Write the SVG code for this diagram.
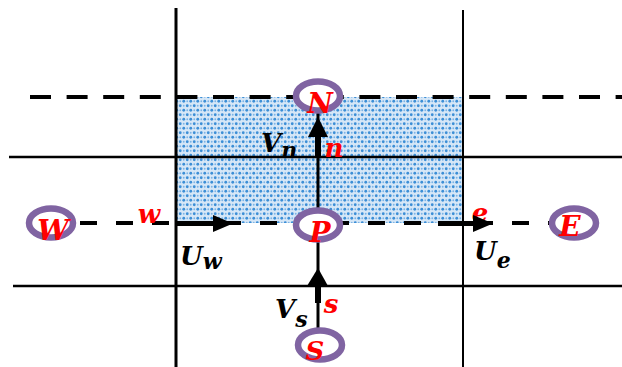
<svg xmlns="http://www.w3.org/2000/svg" width="622" height="367" viewBox="0 0 622 367">
<style>
.grid{stroke:#000;fill:none}
.dash{stroke:#000;stroke-width:4;fill:none}
.node ellipse{fill:#fff;stroke:#8064A2;stroke-width:6.5}
.big{font-family:"DejaVu Serif",serif;font-weight:bold;font-style:italic;font-size:28px;fill:#ff0000;text-anchor:middle}
.face{font-family:"DejaVu Serif",serif;font-weight:bold;font-style:italic;font-size:26px;fill:#ff0000;text-anchor:middle}
.vel{font-family:"DejaVu Serif",serif;font-weight:bold;font-style:italic;font-size:26px;fill:#000}
.sub{font-size:22px}
.arr{fill:#000}
</style>
<defs>
<pattern id="dots" width="7" height="9" patternUnits="userSpaceOnUse">
<rect width="7" height="9" fill="#d6e7f7"/>
<circle cx="1.75" cy="2.25" r="1.4" fill="#3b8ed6"/>
<circle cx="5.25" cy="6.75" r="1.4" fill="#3b8ed6"/>
<circle cx="1.75" cy="6.75" r="0.9" fill="#7db4e6"/>
<circle cx="5.25" cy="2.25" r="0.9" fill="#7db4e6"/>
</pattern>
</defs>
<rect x="177" y="97" width="286" height="126" fill="url(#dots)"/>
<g id="grid">
<line class="grid" x1="176" y1="8" x2="176" y2="367" stroke-width="3"/>
<line class="grid" x1="463" y1="10" x2="463" y2="367" stroke-width="2"/>
<line class="grid" x1="9" y1="157" x2="622" y2="157" stroke-width="2.5"/>
<line class="grid" x1="13" y1="286" x2="622" y2="286" stroke-width="2.5"/>
<line class="dash" x1="30" y1="97" x2="622" y2="97" stroke-dasharray="21 15.6"/>
<line class="dash" x1="80" y1="223" x2="549" y2="223" stroke-dasharray="17 19"/>
</g>
<text id="label-e" class="face" x="480" y="222">e</text>
<g id="connectors">
<line x1="318" y1="112" x2="318" y2="210" stroke="#000" stroke-width="3"/>
<line x1="318" y1="240" x2="318" y2="330" stroke="#000" stroke-width="3"/>
<rect class="arr" x="315" y="134" width="6" height="23"/>
<polygon class="arr" points="308,137 328,137 318,117"/>
<rect class="arr" x="315" y="283" width="6" height="20"/>
<polygon class="arr" points="307,286 328,286 318,268"/>
<rect class="arr" x="177" y="221" width="38" height="5"/>
<polygon class="arr" points="213,215 233,223.5 213,232"/>
<rect class="arr" x="438" y="221" width="37" height="5"/>
<polygon class="arr" points="473,215 493,223.5 473,232"/>
</g>
<g id="node-W" class="node"><ellipse cx="51" cy="223" rx="22" ry="14.5"/><text class="big" x="53" y="240">W</text></g>
<g id="node-N" class="node"><ellipse cx="318" cy="96" rx="22" ry="14.5"/><text class="big" x="320" y="113">N</text></g>
<g id="node-P" class="node"><ellipse cx="318" cy="225" rx="22" ry="14.5"/><text class="big" x="320" y="242">P</text></g>
<g id="node-E" class="node"><ellipse cx="574" cy="223" rx="22" ry="14.5"/><text class="big" x="570" y="236">E</text></g>
<g id="node-S" class="node"><ellipse cx="320" cy="345" rx="22" ry="14.5"/><text class="big" x="315" y="360" style="font-size:26px">S</text></g>
<g id="labels">
<text class="face" x="149" y="223">w</text>
<text class="face" x="334" y="157">n</text>
<text class="face" x="331" y="313">s</text>
<text class="vel" x="180" y="265">U<tspan class="sub" dy="4">w</tspan></text>
<text class="vel" x="474" y="260">U<tspan class="sub" dy="8">e</tspan></text>
<text class="vel" x="261" y="152">V<tspan class="sub" dy="6">n</tspan></text>
<text class="vel" x="275" y="318">V<tspan class="sub" dy="9">s</tspan></text>
</g>
</svg>
